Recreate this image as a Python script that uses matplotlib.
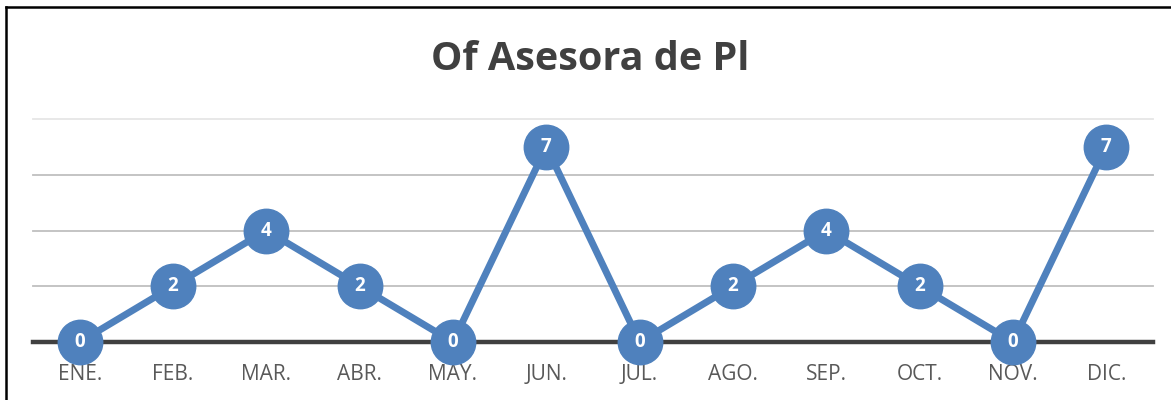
import matplotlib
matplotlib.use("Agg")
import matplotlib.pyplot as plt
from matplotlib.lines import Line2D

months = ["ENE.", "FEB.", "MAR.", "ABR.", "MAY.", "JUN.", "JUL.", "AGO.", "SEP.", "OCT.", "NOV.", "DIC."]
values = [0, 2, 4, 2, 0, 7, 0, 2, 4, 2, 0, 7]
title = "Of Asesora de Pl"

plt.rcParams['font.family'] = ['Open Sans', 'DejaVu Sans']

W, H = 1171, 400
fig = plt.figure(figsize=(W / 100, H / 100), dpi=100)
ax = fig.add_axes([33 / W, 58 / H, (1153 - 33) / W, (342 - 119) / H])

x = [i + 0.5 for i in range(len(months))]
ax.set_xlim(0, len(months))
ax.set_ylim(0, 8)

for yv, c in [(2, '#bfbfbf'), (4, '#bfbfbf'), (6, '#bfbfbf'), (8, '#e6e6e6')]:
    ax.axhline(yv, color=c, lw=1.3, zorder=1, clip_on=False)
ax.axhline(0, color='#404040', lw=3.2, zorder=2, clip_on=False)

blue = '#4f81bd'
ax.plot(x, values, color=blue, lw=5, marker='o', ms=32, mfc=blue, mec=blue,
        zorder=3, clip_on=False, solid_capstyle='round')
for xi, v in zip(x, values):
    ax.text(xi, v, str(v), ha='center', va='center', color='white',
            fontsize=13.5, fontweight='bold', zorder=4)

for s in ax.spines.values():
    s.set_visible(False)
ax.set_yticks([])
ax.set_xticks(x)
ax.set_xticklabels(months, color='#595959', fontsize=15)
ax.tick_params(axis='x', length=0, pad=16)

fig.text(590 / W, 1 - 60 / H, title, ha='center', va='center',
         fontsize=28.5, fontweight='bold', color='#404040')

fig.add_artist(Line2D([6 / W, 6 / W], [0, 1 - 7 / H], color='black', lw=1.8, transform=fig.transFigure))
fig.add_artist(Line2D([6 / W, 1], [1 - 7 / H, 1 - 7 / H], color='black', lw=1.8, transform=fig.transFigure))

fig.savefig("out.png", dpi=100)
